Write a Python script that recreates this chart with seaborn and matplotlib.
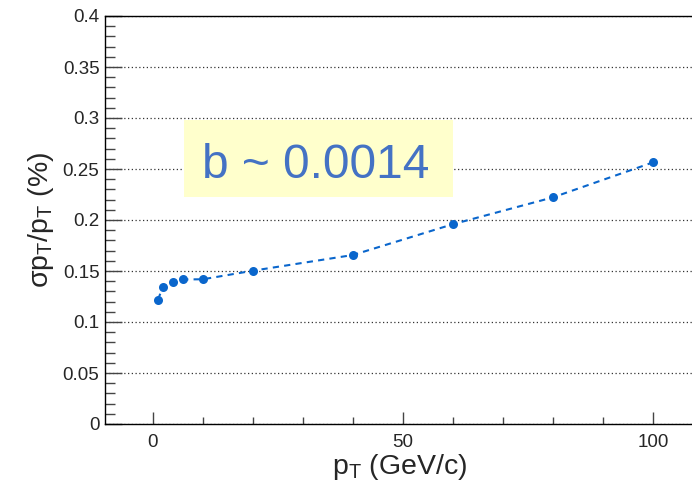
import numpy as np
import pandas as pd
import matplotlib
matplotlib.use("Agg")
import matplotlib.pyplot as plt
from matplotlib.patches import Rectangle
import seaborn as sbn

# data
pt = [1, 2, 4, 6, 10, 20, 40, 60, 80, 100]
resolution = [0.1220, 0.1346, 0.1397, 0.1417, 0.1419, 0.1503, 0.1657, 0.1959, 0.2222, 0.2565]
yticks = [0, 0.05, 0.1, 0.15, 0.2, 0.25, 0.3, 0.35, 0.4]
ytick_labels = ["0", "0.05", "0.1", "0.15", "0.2", "0.25", "0.3", "0.35", "0.4"]
xticks = [0, 50, 100]
xtick_labels = ["0", "50", "100"]
annotation = "b ~ 0.0014"

df = pd.DataFrame({"pt": pt, "res": resolution})

sbn.set_style("white")
plt.rcParams['font.family'] = ['Liberation Sans', 'DejaVu Sans']
plt.rcParams['mathtext.fontset'] = 'custom'
plt.rcParams['mathtext.rm'] = 'Liberation Sans'
plt.rcParams['mathtext.it'] = 'Liberation Sans'
plt.rcParams['mathtext.bf'] = 'Liberation Sans'

fig = plt.figure(figsize=(6.92, 4.96), dpi=100)
ax = fig.add_axes([105 / 692, 72 / 496, 590 / 692, 408 / 496])

blue = "#0a66cc"
sbn.lineplot(data=df, x="pt", y="res", ax=ax, color=blue, linestyle=(0, (3, 2.5)),
             linewidth=1.5, marker="o", markersize=6.5, markeredgewidth=0)

ax.set_xlim(-9.6, 108.4)
ax.set_ylim(0, 0.4)

ax.set_yticks(yticks)
ax.set_yticklabels(ytick_labels)
ax.set_xticks(xticks)
ax.set_xticklabels(xtick_labels)
ax.set_yticks(np.arange(0, 0.4001, 0.01), minor=True)
ax.set_xticks(np.arange(0, 108, 10), minor=True)

ax.tick_params(axis="y", which="major", direction="in", length=12, width=1, color="#444444",
               labelsize=13.5, pad=4, left=True)
ax.tick_params(axis="y", which="minor", direction="in", length=7, width=1, color="#444444", left=True)
ax.tick_params(axis="x", which="major", direction="in", length=9, width=1, color="#444444",
               labelsize=13.5, pad=7, bottom=True)
ax.tick_params(axis="x", which="minor", direction="in", length=5, width=1, color="#444444", bottom=True)

for s in ["left", "bottom", "top"]:
    ax.spines[s].set_color("black")
    ax.spines[s].set_linewidth(1)
ax.spines["right"].set_visible(False)

ax.yaxis.grid(True, which="major", color="#333333", linestyle=(0, (1, 2)), linewidth=0.9)
ax.xaxis.grid(False)
ax.set_axisbelow(True)

ax.set_xlabel(r"$\mathrm{p_{T}}$ (GeV/c)", fontsize=20.5, labelpad=1)
ax.set_ylabel(r"$\mathrm{\sigma p_{T}/p_{T}}$ (%)", fontsize=20.5, labelpad=5)

# yellow label box
ax.add_patch(Rectangle((0.134, 0.556), 0.456, 0.189, transform=ax.transAxes,
                       facecolor="#ffffcc", edgecolor="none", zorder=3))
ax.text(0.165, 0.603, annotation, transform=ax.transAxes, fontsize=34.5, color="#4472c4",
        va="baseline", ha="left", zorder=4)

fig.savefig("out.png", dpi=100)
